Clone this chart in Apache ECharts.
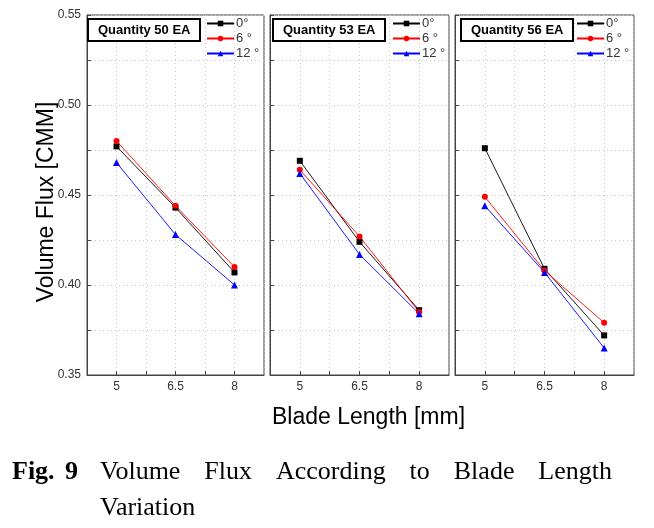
<!DOCTYPE html>
<html>
<head>
<meta charset="utf-8">
<script src="https://cdn.jsdelivr.net/npm/echarts@6/dist/echarts.min.js"></script>
<style>
  html, body { margin: 0; padding: 0; background: #fff; }
  #chart { width: 654px; height: 528px; }
</style>
</head>
<body>
<div id="chart"></div>
<script>
// blade length (mm)
const bladeLength = [5, 6.5, 8]
const angles = ['0°', '6 °', '12 °']
const panelTitles = ['Quantity 50 EA', 'Quantity 53 EA', 'Quantity 56 EA']

// volume flux [CMM], one array per angle and blade quantity
const q50_0 = [0.477, 0.443, 0.407]
const q50_6 = [0.480, 0.444, 0.410]
const q50_12 = [0.468, 0.428, 0.400]
const q53_0 = [0.469, 0.424, 0.386]
const q53_6 = [0.464, 0.427, 0.385]
const q53_12 = [0.462, 0.417, 0.384]
const q56_0 = [0.476, 0.409, 0.372]
const q56_6 = [0.449, 0.408, 0.379]
const q56_12 = [0.444, 0.407, 0.365]

const panels = [
  [q50_0, q50_6, q50_12],
  [q53_0, q53_6, q53_12],
  [q56_0, q56_6, q56_12],
]

const colors = ['#000000', '#ff0000', '#0000ff']
const symbols = ['rect', 'circle', 'triangle']
const symbolSizes = [6, 6, 7]

const gridLeft = [87, 270, 455]
const gridWidth = [177, 179, 179]
const legendLeft = [206, 392, 576]
const titleLeft = [88, 273, 461]

const chart = echarts.init(document.getElementById('chart'))

const grids = []
const xAxes = []
const yAxes = []
const series = []
const legends = []
const titles = []

panels.forEach((panel, p) => {
  grids.push({
    left: gridLeft[p],
    width: gridWidth[p],
    top: 15,
    height: 360,
    show: true,
    borderColor: '#444',
    borderWidth: 1,
  })
  xAxes.push({
    type: 'value',
    gridIndex: p,
    min: 4.25,
    max: 8.75,
    interval: 0.75,
    axisLine: { lineStyle: { color: '#444' } },
    axisTick: { inside: true, length: 4, lineStyle: { color: '#444' } },
    axisLabel: {
      color: '#333',
      fontSize: 12,
      fontFamily: 'Arial, Liberation Sans',
      margin: 6,
      showMinLabel: false,
      showMaxLabel: false,
      formatter: (v) => (bladeLength.some((b) => Math.abs(b - v) < 1e-6) ? String(v) : ''),
    },
    splitLine: { show: true, lineStyle: { color: '#c8c8c8', type: [1, 3] } },
  })
  yAxes.push({
    type: 'value',
    gridIndex: p,
    min: 0.35,
    max: 0.55,
    interval: 0.025,
    axisLine: { show: true, lineStyle: { color: '#444' } },
    axisTick: { show: true, inside: true, length: 4, lineStyle: { color: '#444' } },
    axisLabel: {
      show: p === 0,
      color: '#333',
      fontSize: 12,
      fontFamily: 'Arial, Liberation Sans',
      margin: 6,
      formatter: (v) => (Math.round(v * 1000) % 50 === 0 ? v.toFixed(2) : ''),
    },
    splitLine: { show: true, lineStyle: { color: '#c8c8c8', type: [1, 3] } },
  })
  panel.forEach((vals, k) => {
    series.push({
      name: angles[k],
      type: 'line',
      xAxisIndex: p,
      yAxisIndex: p,
      data: bladeLength.map((x, i) => [x, vals[i]]),
      symbol: symbols[k],
      symbolSize: symbolSizes[k],
      showAllSymbol: true,
      lineStyle: { width: 0.9, color: colors[k] },
      itemStyle: { color: colors[k] },
      animation: false,
    })
  })
  legends.push({
    data: angles,
    orient: 'vertical',
    left: legendLeft[p],
    top: 17,
    itemWidth: 27,
    itemHeight: 7,
    itemGap: 2,
    padding: 0,
    textStyle: { color: '#333', fontSize: 13, fontFamily: 'Arial, Liberation Sans', padding: [0, 0, 0, -3] },
    selectedMode: false,
  })
  titles.push({
    text: panelTitles[p],
    left: titleLeft[p],
    top: 19,
    padding: [5, 10, 4, 10],
    borderWidth: 2,
    borderColor: '#000',
    backgroundColor: '#fff',
    textStyle: { fontSize: 13, fontWeight: 'bold', color: '#000', fontFamily: 'Arial, Liberation Sans' },
  })
})

// caption: first line is justified between two edges
const serif = 'Times New Roman, Liberation Serif, serif'
const captionWords = ['Volume', 'Flux', 'According', 'to', 'Blade', 'Length']
const capStart = 100
const capEnd = 612
const ctx = document.createElement('canvas').getContext('2d')
ctx.font = '26px ' + serif
const widths = captionWords.map((w) => ctx.measureText(w).width)
const gap = (capEnd - capStart - widths.reduce((a, b) => a + b, 0)) / (captionWords.length - 1)

const graphics = [
  {
    type: 'text', left: 272, top: 406,
    style: { text: 'Blade Length [mm]', fontSize: 23, fill: '#000', fontFamily: 'Arial, Liberation Sans' },
  },
  {
    type: 'text', x: 47, y: 202, rotation: Math.PI / 2,
    style: { text: 'Volume Flux [CMM]', fontSize: 23, fill: '#000', fontFamily: 'Arial, Liberation Sans', align: 'center', verticalAlign: 'middle' },
  },
  { type: 'text', left: 12, top: 459, style: { text: 'Fig.', fontSize: 26, fontWeight: 'bold', fill: '#000', fontFamily: serif } },
  { type: 'text', left: 65, top: 459, style: { text: '9', fontSize: 26, fontWeight: 'bold', fill: '#000', fontFamily: serif } },
  { type: 'text', left: 100, top: 495, style: { text: 'Variation', fontSize: 26, fill: '#000', fontFamily: serif } },
]
let cx = capStart
captionWords.forEach((w, i) => {
  graphics.push({ type: 'text', x: cx, y: 459, style: { text: w, fontSize: 26, fill: '#000', fontFamily: serif } })
  cx += widths[i] + gap
})

const option = {
  animation: false,
  backgroundColor: '#fff',
  title: titles,
  legend: legends,
  grid: grids,
  xAxis: xAxes,
  yAxis: yAxes,
  series: series,
  graphic: graphics,
}
chart.setOption(option)
</script>
</body>
</html>
